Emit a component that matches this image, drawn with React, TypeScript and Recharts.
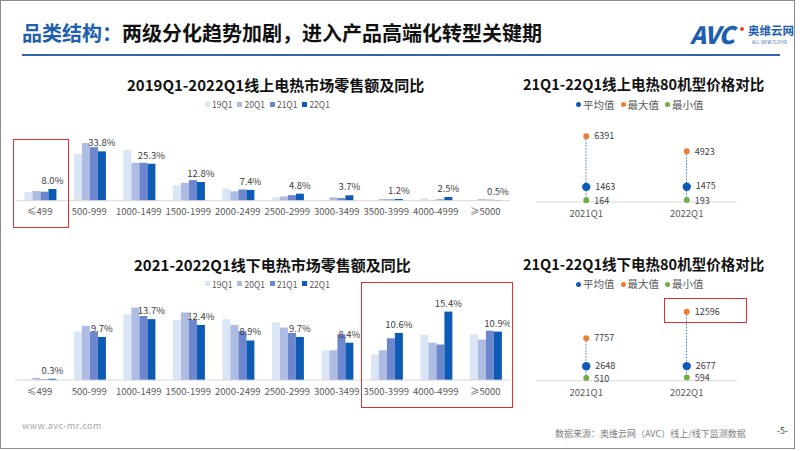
import React from 'react';
import { BarChart, Bar, XAxis, YAxis, LabelList, ComposedChart, Line } from 'recharts';

const categories = ['≤499', '500-999', '1000-1499', '1500-1999', '2000-2499', '2500-2999', '3000-3499', '3500-3999', '4000-4999', '≥5000'];
const seriesNames = ['19Q1', '20Q1', '21Q1', '22Q1'];
const seriesColors = ['#DAE6F5', '#AEBCE4', '#6C87CE', '#0E5BB5'];

const online19 = [5.9, 32.2, 34.7, 10.5, 8.4, 2.3, 0.5, 0.2, 1.8, 0.3];
const online20 = [6.6, 39.5, 26.0, 12.3, 6.4, 2.9, 2.3, 1.2, 0.5, 1.1];
const online21 = [6.2, 36.7, 26.0, 14.1, 7.7, 3.8, 1.8, 0.9, 0.9, 0.7];
const online22 = [8.0, 33.8, 25.3, 12.8, 7.4, 4.8, 3.7, 1.2, 2.5, 0.5];

const offline19 = [0.2, 10.9, 14.8, 13.5, 13.7, 13.0, 6.7, 5.8, 10.2, 10.3];
const offline20 = [0.5, 12.2, 16.3, 15.2, 12.4, 11.8, 6.7, 6.7, 8.4, 9.1];
const offline21 = [0.2, 10.9, 14.4, 13.5, 11.0, 10.6, 10.3, 9.4, 8.0, 11.1];
const offline22 = [0.3, 9.7, 13.7, 12.4, 8.9, 9.7, 8.4, 10.6, 15.4, 10.9];

const priceCats = ['2021Q1', '2022Q1'];
const onlineAvg = [1463, 1475];
const onlineMax = [6391, 4923];
const onlineMin = [164, 193];
const offlineAvg = [2648, 2677];
const offlineMax = [7757, 12596];
const offlineMin = [510, 594];

const priceLegend = [
  { name: '平均值', color: '#0E5BB5' },
  { name: '最大值', color: '#ED7D31' },
  { name: '最小值', color: '#70AD47' },
];

const onlineData = categories.map((c, i) => ({ name: c, s19: online19[i], s20: online20[i], s21: online21[i], s22: online22[i] }));
const offlineData = categories.map((c, i) => ({ name: c, s19: offline19[i], s20: offline20[i], s21: offline21[i], s22: offline22[i] }));
const onlinePrice = priceCats.map((c, i) => ({ name: c, avg: onlineAvg[i], max: onlineMax[i], min: onlineMin[i] }));
const offlinePrice = priceCats.map((c, i) => ({ name: c, avg: offlineAvg[i], max: offlineMax[i], min: offlineMin[i] }));

const FONT = "'Noto Sans CJK SC', 'Noto Sans', sans-serif";
const keys = ['s19', 's20', 's21', 's22'];

const pct = (v: any) => `${Number(v).toFixed(1)}%`;

function ShareChart({ data, top, max, plotH }: { data: any[]; top: number; max: number; plotH: number }) {
  const mTop = 20;
  const axisH = 24;
  return (
    <div style={{ position: 'absolute', left: 14.5, top: top - mTop }}>
      <BarChart width={495} height={mTop + plotH + axisH} data={data} margin={{ top: mTop, right: 0, bottom: 0, left: 0 }} barCategoryGap="19%" barGap={0}>
        <XAxis dataKey="name" interval={0} tickLine={false} axisLine={{ stroke: '#D9D9D9' }} height={axisH} tick={{ fill: '#595959', fontSize: 9.5 }} />
        <YAxis hide domain={[0, max]} />
        {keys.map((k, i) => (
          <Bar key={k} dataKey={k} fill={seriesColors[i]} isAnimationActive={false}>
            {i === 3 ? <LabelList dataKey={k} position="top" offset={5} formatter={pct} fill="#404040" fontSize={9.5} /> : null}
          </Bar>
        ))}
      </BarChart>
    </div>
  );
}

const Stem = (props: any) => {
  const { x, y, width, height } = props;
  if (x == null || y == null) return null;
  const cx = x + width / 2;
  const y1 = Math.min(y, y + height);
  const y2 = Math.max(y, y + height);
  return <line x1={cx} x2={cx} y1={y1} y2={y2} stroke="#4472C4" strokeWidth={1} strokeDasharray="1.5 1.5" />;
};

function PriceChart({ data, baseline, max, plotH }: { data: any[]; baseline: number; max: number; plotH: number }) {
  const mTop = 10;
  const axisH = 22;
  return (
    <div style={{ position: 'absolute', left: 536, top: baseline - plotH - mTop }}>
      <ComposedChart width={201} height={mTop + plotH + axisH} data={data} margin={{ top: mTop, right: 0, bottom: 0, left: 0 }}>
        <XAxis dataKey="name" interval={0} tickLine={false} axisLine={{ stroke: '#D9D9D9' }} height={axisH} tick={{ fill: '#595959', fontSize: 9.5 }} />
        <YAxis hide domain={[0, max]} />
        <Bar dataKey={(d: any) => [d.min, d.max]} barSize={2} shape={Stem} isAnimationActive={false} />
        <Line dataKey="max" stroke="none" isAnimationActive={false} activeDot={false} dot={{ r: 3, fill: '#ED7D31', stroke: 'none' }}>
          <LabelList dataKey="max" position="right" offset={8} fill="#404040" fontSize={9} />
        </Line>
        <Line dataKey="min" stroke="none" isAnimationActive={false} activeDot={false} dot={{ r: 3, fill: '#70AD47', stroke: 'none' }}>
          <LabelList dataKey="min" position="right" offset={8} fill="#404040" fontSize={9} dy={0.5} />
        </Line>
        <Line dataKey="avg" stroke="none" isAnimationActive={false} activeDot={false} dot={{ r: 4.2, fill: '#0E5BB5', stroke: 'none' }}>
          <LabelList dataKey="avg" position="right" offset={9} fill="#404040" fontSize={9} dy={-0.5} />
        </Line>
      </ComposedChart>
    </div>
  );
}

const text = (s: React.CSSProperties): React.CSSProperties => ({ position: 'absolute', whiteSpace: 'nowrap', lineHeight: 1, ...s });

function BarLegend({ top }: { top: number }) {
  return (
    <div style={text({ left: 205, top: top - 4.5, fontSize: 8.5, color: '#595959', display: 'flex', gap: 5 })}>
      {seriesNames.map((n, i) => (
        <span key={n} style={{ display: 'flex', alignItems: 'center', gap: 2 }}>
          <span style={{ width: 5, height: 5, background: seriesColors[i], display: 'inline-block' }} />
          {n}
        </span>
      ))}
    </div>
  );
}

function PriceLegend({ top }: { top: number }) {
  return (
    <div style={text({ left: 576, top: top - 5.5, fontSize: 10.5, color: '#595959', display: 'flex', gap: 6 })}>
      {priceLegend.map((p) => (
        <span key={p.name} style={{ display: 'flex', alignItems: 'center', gap: 2 }}>
          <span style={{ width: 5, height: 5, borderRadius: 3, background: p.color, display: 'inline-block' }} />
          {p.name}
        </span>
      ))}
    </div>
  );
}

export default function App() {
  return (
    <div style={{ position: 'absolute', left: 0, top: 0, width: 802, height: 451, overflow: 'hidden', background: '#fff', fontFamily: FONT }}>
      <div style={{ position: 'absolute', left: 0, top: 0, width: 793, height: 447, border: '1.5px solid #8C8C8C' }} />
      {/* header */}
      <div style={text({ left: 22, top: 23, fontSize: 20, fontWeight: 700, color: '#111' })}>
        <span style={{ color: '#1F5FAD' }}>品类结构：</span>两级分化趋势加剧，进入产品高端化转型关键期
      </div>
      <div style={{ position: 'absolute', left: 22, top: 54, width: 758, height: 2, background: '#2F64AE' }} />
      <div style={text({ left: 690, top: 22, fontSize: 24, fontWeight: 900, fontStyle: 'italic', color: '#1F5FAD', letterSpacing: -1 })}>AVC</div>
      <div style={{ position: 'absolute', left: 740, top: 27, width: 4, height: 4, borderRadius: 2, background: '#E8432E' }} />
      <div style={text({ left: 748, top: 25, fontSize: 11.5, fontWeight: 700, color: '#1F5FAD' })}>奥维云网</div>
      <div style={text({ left: 752, top: 40, fontSize: 4.5, color: '#1F5FAD' })}>ALL VIEW CLOUD</div>

      {/* titles */}
      <div style={text({ left: 127, top: 77, fontSize: 15, fontWeight: 700, color: '#111' })}>2019Q1-2022Q1线上电热市场零售额及同比</div>
      <div style={text({ left: 134, top: 256.5, fontSize: 15, fontWeight: 700, color: '#111' })}>2021-2022Q1线下电热市场零售额及同比</div>
      <div style={text({ left: 523, top: 77, fontSize: 14.5, fontWeight: 700, color: '#111' })}>21Q1-22Q1线上电热80机型价格对比</div>
      <div style={text({ left: 523, top: 256.5, fontSize: 14.5, fontWeight: 700, color: '#111' })}>21Q1-22Q1线下电热80机型价格对比</div>

      <BarLegend top={104.3} />
      <BarLegend top={284} />
      <PriceLegend top={105} />
      <PriceLegend top={284.3} />

      <ShareChart data={onlineData} top={134.6} max={45} plotH={65.7} />
      <ShareChart data={offlineData} top={299.6} max={18} plotH={80.1} />
      <PriceChart data={onlinePrice} baseline={201.5} max={7000} plotH={71.9} />
      <PriceChart data={offlinePrice} baseline={380.8} max={14000} plotH={76.8} />

      {/* red boxes */}
      <div style={{ position: 'absolute', left: 13, top: 139, width: 56, height: 89, border: '1.5px solid #E03030', boxSizing: 'border-box' }} />
      <div style={{ position: 'absolute', left: 360.5, top: 281.5, width: 152, height: 126, border: '1.5px solid #E03030', boxSizing: 'border-box' }} />
      <div style={{ position: 'absolute', left: 664, top: 297.5, width: 83, height: 25, border: '1.5px solid #E03030', boxSizing: 'border-box' }} />

      {/* footer */}
      <div style={text({ left: 22, top: 421, fontSize: 9, color: '#A6A6A6', letterSpacing: 0.5 })}>www.avc-mr.com</div>
      <div style={text({ left: 555, top: 429, fontSize: 9, color: '#7F7F7F' })}>数据来源：奥维云网（AVC）线上/线下监测数据</div>
      <div style={text({ left: 777, top: 426, fontSize: 9, color: '#404040' })}>-5-</div>
    </div>
  );
}
